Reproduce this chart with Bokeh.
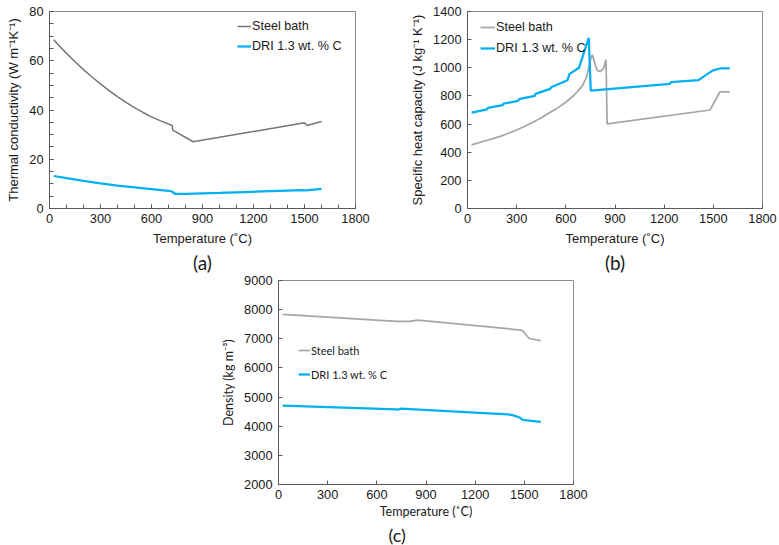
from bokeh.plotting import figure
from bokeh.layouts import column, row
from bokeh.models import Range1d, SingleIntervalTicker, Legend, LegendItem, Title, Spacer
from bokeh.embed import file_html
from bokeh.resources import INLINE

# Thermal conductivity (W m^-1 K^-1) against temperature (degC)
k_steel_T = [25, 50, 100, 150, 200, 250, 300, 350, 400, 450, 500, 550, 600, 650, 700,
             722, 725, 845, 1500, 1515, 1600]
k_steel = [68.5, 66.6, 63.0, 59.6, 56.4, 53.4, 50.6, 47.9, 45.4, 43.1, 41.0, 39.0, 37.2,
           35.7, 34.3, 33.7, 31.8, 27.1, 34.8, 33.7, 35.3]
k_dri_T = [25, 100, 200, 300, 400, 500, 600, 700, 720, 740, 800, 1000, 1200, 1400, 1480,
           1510, 1600]
k_dri = [13.2, 12.3, 11.2, 10.2, 9.3, 8.6, 7.9, 7.2, 6.9, 5.9, 5.9, 6.3, 6.8, 7.3, 7.5,
         7.4, 8.0]

# Specific heat capacity (J kg^-1 K^-1)
cp_steel_T = [25, 100, 150, 200, 250, 300, 350, 400, 450, 500, 550, 600, 650, 700, 725,
              740, 750, 762, 775, 790, 810, 830, 845, 852, 1480, 1540, 1600]
cp_steel = [452, 478, 495, 513, 535, 558, 585, 613, 645, 680, 715, 755, 805, 870, 930,
            1000, 1060, 1092, 1040, 985, 972, 995, 1058, 602, 700, 828, 828]
cp_dri_T = [25, 120, 125, 215, 220, 310, 315, 410, 415, 505, 510, 610, 622, 680, 740, 752,
            1235, 1240, 1410, 1470, 1495, 1540, 1600]
cp_dri = [682, 705, 715, 735, 745, 765, 778, 800, 815, 850, 862, 912, 955, 1000, 1212, 838,
          885, 898, 912, 960, 980, 995, 995]

# Density (kg m^-3)
rho_steel_T = [25, 720, 800, 850, 1480, 1490, 1510, 1530, 1600]
rho_steel = [7840, 7600, 7600, 7640, 7300, 7270, 7140, 7010, 6940]
rho_dri_T = [25, 720, 730, 745, 1400, 1440, 1470, 1490, 1600]
rho_dri = [4710, 4575, 4570, 4600, 4410, 4360, 4300, 4215, 4150]

series_labels = ["Steel bath", "DRI 1.3 wt. % C"]
x_title = "Temperature (\u02daC)"

BLUE = "#00b0f0"
AXIS = "#595959"
FRAME = "#8c8c8c"
TEXT = "#1a1a1a"


def make_panel(width, height, borders, y_end, x_step, y_step, x_minor, y_minor,
               y_title, label_font, label_size, tick_gap, label_gap):
    left, right, top, bottom = borders
    p = figure(width=width, height=height, output_backend="svg", toolbar_location=None,
               x_range=Range1d(0, 1800), y_range=Range1d(y_end[0], y_end[1]),
               min_border_left=left, min_border_right=right,
               min_border_top=top, min_border_bottom=bottom)
    p.xaxis.ticker = SingleIntervalTicker(interval=x_step, num_minor_ticks=x_minor)
    p.yaxis.ticker = SingleIntervalTicker(interval=y_step, num_minor_ticks=y_minor)
    p.xgrid.visible = False
    p.ygrid.visible = False
    p.outline_line_color = FRAME
    p.outline_line_width = 1
    p.background_fill_color = "white"
    p.border_fill_color = "white"
    for ax, minor in ((p.xaxis[0], x_minor), (p.yaxis[0], y_minor)):
        ax.axis_line_color = AXIS
        ax.axis_line_width = 1
        ax.major_tick_line_color = AXIS
        ax.major_tick_in = 4
        ax.major_tick_out = 0
        ax.minor_tick_line_color = AXIS if minor else None
        ax.minor_tick_in = 4
        ax.minor_tick_out = 0
        ax.major_label_text_font = "Liberation Sans"
        ax.major_label_text_font_size = "12.8px"
        ax.major_label_text_color = TEXT
        ax.major_label_standoff = 6
        ax.axis_label_text_font = label_font
        ax.axis_label_text_font_size = label_size
        ax.axis_label_text_font_style = "normal"
        ax.axis_label_text_color = TEXT
    p.xaxis.major_label_standoff = tick_gap
    p.xaxis.axis_label = x_title
    p.xaxis.axis_label_standoff = label_gap
    p.yaxis.axis_label = y_title
    p.yaxis.axis_label_standoff = 5
    return p


def add_tag(p, text, size, align="center", offset=0):
    # panel letter set beneath the x-axis title
    p.add_layout(Title(text=text, align=align, offset=offset, standoff=0,
                       text_font="Lato", text_font_size=size, text_font_style="normal",
                       text_color=TEXT), "below")


def add_legend(p, renderers, loc, glyph_w, spacing, font, size):
    items = [LegendItem(label=lab, renderers=[r]) for lab, r in zip(series_labels, renderers)]
    leg = Legend(items=items, location=loc, glyph_width=glyph_w, glyph_height=14,
                 label_height=14, label_standoff=1, spacing=spacing, padding=0, margin=0,
                 border_line_color=None, background_fill_alpha=0,
                 label_text_font=font, label_text_font_size=size, label_text_color=TEXT)
    p.add_layout(leg)


# (a) thermal conductivity
pa = make_panel(390, 273, (49, 35, 11, 65), (0, 80), 300, 20, 3, 4,
                "Thermal conductivity (W m\u207b\u00b9K\u207b\u00b9)",
                "Liberation Sans", "13px", 5, 5)
ra1 = pa.line(k_steel_T, k_steel, line_color="#767676", line_width=1.5)
ra2 = pa.line(k_dri_T, k_dri, line_color=BLUE, line_width=2.25)
add_legend(pa, [ra1, ra2], (188, 155), 14, 6, "Liberation Sans", "12.6px")
add_tag(pa, "(a)", "19px")

# (b) specific heat capacity
pb = make_panel(389, 273, (77, 17, 11, 65), (0, 1400), 300, 200, 0, 0,
                "Specific heat capacity (J kg\u207b\u00b9 K\u207b\u00b9)",
                "Liberation Sans", "13px", 5, 5)
rb1 = pb.line(cp_steel_T, cp_steel, line_color="#a6a6a6", line_width=1.75)
rb2 = pb.line(cp_dri_T, cp_dri, line_color=BLUE, line_width=2.25)
add_legend(pb, [rb1, rb2], (13, 153), 15, 7, "Liberation Sans", "12.6px")
add_tag(pb, "(b)", "19px")

# (c) density
pc = make_panel(400, 272, (78, 27, 7, 59), (2000, 9000), 300, 1000, 0, 0,
                "Density (kg m\u207b\u00b3)", "Lato", "12.5px", 5, 2)
rc1 = pc.line(rho_steel_T, rho_steel, line_color="#a6a6a6", line_width=1.75)
rc2 = pc.line(rho_dri_T, rho_dri, line_color=BLUE, line_width=2.25)
add_legend(pc, [rc1, rc2], (20, 103), 12, 10, "Lato", "11px")
add_tag(pc, "(c)", "18px", align="left", offset=110)

page = column(row(pa, pb, spacing=0),
              row(Spacer(width=200, height=272), pc, spacing=0),
              spacing=0)

open("out.html", "w").write(file_html(page, INLINE))
